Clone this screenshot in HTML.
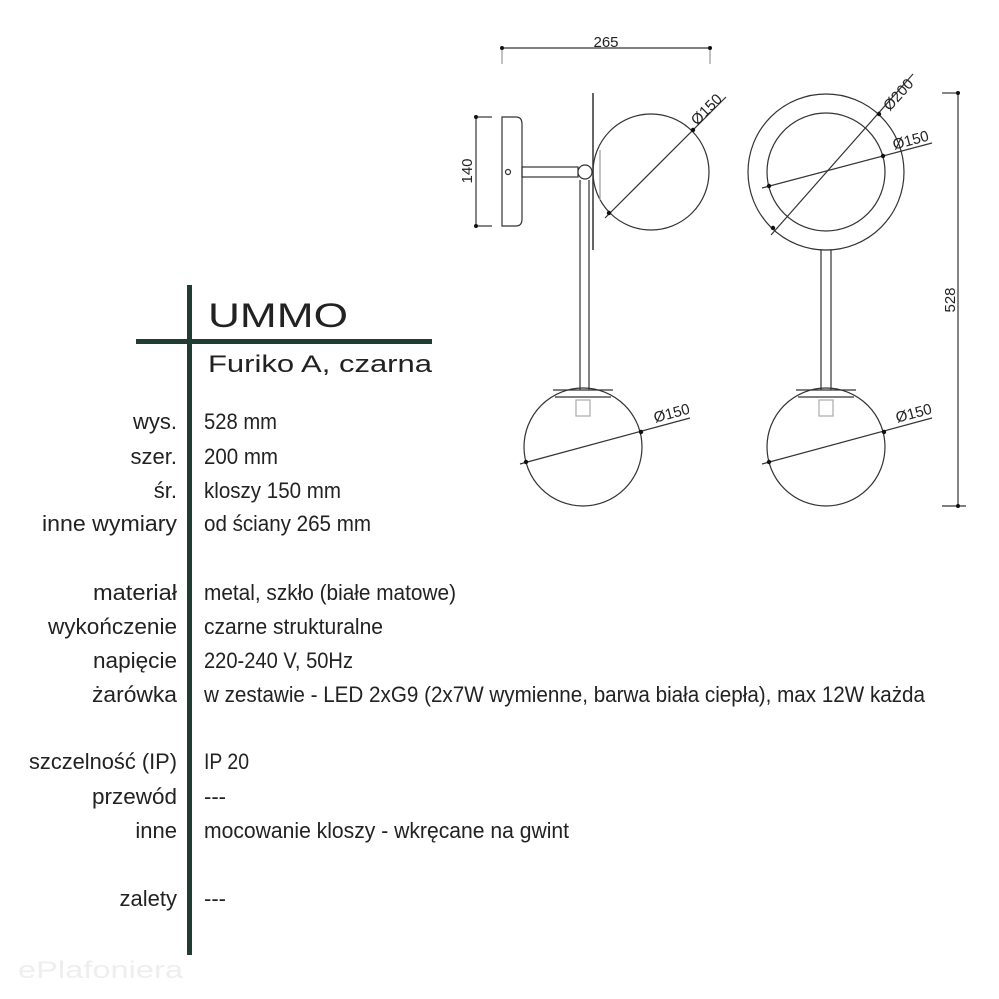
<!DOCTYPE html>
<html><head><meta charset="utf-8"><style>
html,body{margin:0;padding:0;background:#fff;width:999px;height:999px;overflow:hidden}
svg{display:block}
.t{font-family:"Liberation Sans Narrow","Liberation Sans",sans-serif;font-size:22px;fill:#222}
.d{font-family:"Liberation Sans",sans-serif;font-size:15px;fill:#222}
</style></head><body>
<svg width="999" height="999" viewBox="0 0 999 999" xmlns="http://www.w3.org/2000/svg">
<rect x="187" y="285" width="5" height="670" fill="#1f3d33"/>
<rect x="136" y="339" width="296" height="5" fill="#1f3d33"/>
<text x="208" y="327" font-family="Liberation Sans,sans-serif" font-size="34" fill="#222" textLength="140" lengthAdjust="spacingAndGlyphs">UMMO</text>
<text x="208" y="372" font-family="Liberation Sans,sans-serif" font-size="24" fill="#222" textLength="224" lengthAdjust="spacingAndGlyphs">Furiko A, czarna</text>
<g class="t" text-anchor="end">
<text x="177" y="429">wys.</text>
<text x="177" y="464">szer.</text>
<text x="177" y="498">śr.</text>
<text x="177" y="531" textLength="135" lengthAdjust="spacingAndGlyphs">inne wymiary</text>
<text x="177" y="600" textLength="84" lengthAdjust="spacingAndGlyphs">materiał</text>
<text x="177" y="634" textLength="129" lengthAdjust="spacingAndGlyphs">wykończenie</text>
<text x="177" y="668" textLength="84" lengthAdjust="spacingAndGlyphs">napięcie</text>
<text x="177" y="702" textLength="85" lengthAdjust="spacingAndGlyphs">żarówka</text>
<text x="177" y="769" textLength="148" lengthAdjust="spacingAndGlyphs">szczelność (IP)</text>
<text x="177" y="804" textLength="85" lengthAdjust="spacingAndGlyphs">przewód</text>
<text x="177" y="838">inne</text>
<text x="177" y="906">zalety</text>
</g>
<g class="t">
<text x="204" y="429" textLength="73" lengthAdjust="spacingAndGlyphs">528 mm</text>
<text x="204" y="464" textLength="74" lengthAdjust="spacingAndGlyphs">200 mm</text>
<text x="204" y="498" textLength="137" lengthAdjust="spacingAndGlyphs">kloszy 150 mm</text>
<text x="204" y="531" textLength="167" lengthAdjust="spacingAndGlyphs">od ściany 265 mm</text>
<text x="204" y="600" textLength="252" lengthAdjust="spacingAndGlyphs">metal, szkło (białe matowe)</text>
<text x="204" y="634" textLength="179" lengthAdjust="spacingAndGlyphs">czarne strukturalne</text>
<text x="204" y="668" textLength="149" lengthAdjust="spacingAndGlyphs">220-240 V, 50Hz</text>
<text x="204" y="702" textLength="721" lengthAdjust="spacingAndGlyphs">w zestawie - LED 2xG9 (2x7W wymienne, barwa biała ciepła), max 12W każda</text>
<text x="204" y="769" textLength="45" lengthAdjust="spacingAndGlyphs">IP 20</text>
<text x="204" y="804">---</text>
<text x="204" y="838" textLength="365" lengthAdjust="spacingAndGlyphs">mocowanie kloszy - wkręcane na gwint</text>
<text x="204" y="906">---</text>
</g>
<text x="18" y="978" font-family="Liberation Sans,sans-serif" font-size="24" fill="#eeeeee" textLength="165" lengthAdjust="spacingAndGlyphs">ePlafoniera</text>

<g stroke="#333" stroke-width="1.2" fill="none">
<line x1="502" y1="48" x2="710" y2="48"/>
<line x1="502" y1="48" x2="502" y2="64" stroke="#999"/>
<line x1="710" y1="48" x2="710" y2="64" stroke="#999"/>
<line x1="476" y1="117" x2="476" y2="226"/>
<line x1="476" y1="117" x2="492" y2="117"/>
<line x1="476" y1="226" x2="492" y2="226"/>
<path d="M502,117 H516 Q522,117 522,124 V219 Q522,226 516,226 H502 Z"/>
<circle cx="508" cy="172" r="2.5"/>
<rect x="522" y="167" width="56" height="10"/>
<circle cx="585" cy="172" r="7" fill="#fff"/>
<line x1="593" y1="93" x2="593" y2="250" stroke-width="1.5"/>
<line x1="580" y1="180" x2="580" y2="390"/>
<line x1="589" y1="180" x2="589" y2="390"/>
<circle cx="651" cy="172" r="58"/>
<line x1="600" y1="150" x2="600" y2="200" stroke="#999"/>
<line x1="605" y1="218" x2="726" y2="97"/>
<circle cx="583" cy="447" r="59"/>
<line x1="553" y1="390" x2="613" y2="390"/>
<line x1="555" y1="397" x2="611" y2="397"/>
<rect x="576" y="400" width="14" height="16" stroke="#aaa"/>
<line x1="520" y1="464" x2="690" y2="418"/>
<circle cx="826" cy="172" r="78"/>
<circle cx="826" cy="172" r="59"/>
<line x1="771" y1="235" x2="913" y2="74"/>
<line x1="762" y1="188" x2="932" y2="143"/>
<line x1="821" y1="250" x2="821" y2="390"/>
<line x1="831" y1="250" x2="831" y2="390"/>
<circle cx="826" cy="447" r="59"/>
<line x1="796" y1="390" x2="856" y2="390"/>
<line x1="798" y1="397" x2="854" y2="397"/>
<rect x="819" y="400" width="14" height="16" stroke="#aaa"/>
<line x1="762" y1="464" x2="932" y2="418"/>
<line x1="958" y1="93" x2="958" y2="506"/>
<line x1="942" y1="93" x2="958" y2="93"/>
<line x1="942" y1="506" x2="966" y2="506"/>
</g>
<g fill="#111">
<circle cx="502" cy="48" r="2"/><circle cx="710" cy="48" r="2"/>
<circle cx="476" cy="117" r="2"/><circle cx="476" cy="226" r="2"/>
<circle cx="609" cy="213" r="2.2"/><circle cx="693" cy="130" r="2.2"/>
<circle cx="526" cy="462" r="2.2"/><circle cx="641" cy="432" r="2.2"/>
<circle cx="773" cy="228" r="2.2"/><circle cx="879" cy="114" r="2.2"/>
<circle cx="769" cy="186" r="2.2"/><circle cx="883" cy="156" r="2.2"/>
<circle cx="769" cy="462" r="2.2"/><circle cx="884" cy="432" r="2.2"/>
<circle cx="958" cy="93" r="2"/><circle cx="958" cy="506" r="2"/>
</g>
<g class="d">
<text x="606" y="47" text-anchor="middle">265</text>
<text transform="translate(472,171) rotate(-90)" text-anchor="middle">140</text>
<text transform="translate(710,113) rotate(-45)" text-anchor="middle">Ø150</text>
<text transform="translate(673,418) rotate(-15)" text-anchor="middle">Ø150</text>
<text transform="translate(902,98) rotate(-48)" text-anchor="middle">Ø200</text>
<text transform="translate(912,145) rotate(-15)" text-anchor="middle">Ø150</text>
<text transform="translate(915,418) rotate(-15)" text-anchor="middle">Ø150</text>
<text transform="translate(955,300) rotate(-90)" text-anchor="middle">528</text>
</g>
</svg>
</body></html>
